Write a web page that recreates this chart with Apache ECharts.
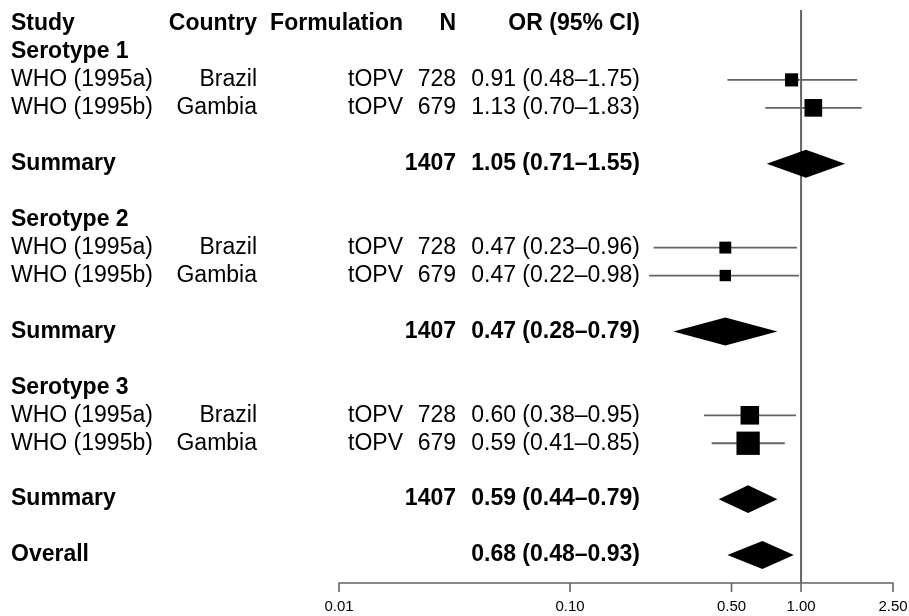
<!DOCTYPE html>
<html><head><meta charset="utf-8">
<script src="https://cdn.jsdelivr.net/npm/echarts@6/dist/echarts.min.js"></script>
<style>html,body{margin:0;padding:0;background:#fff}#c{width:909px;height:616px}</style>
</head><body><div id="c"></div>
<script>
// ---- data ----
const headerLabels = ['Study', 'Country', 'Formulation', 'N', 'OR (95% CI)'];
const groupLabels = ['Serotype 1', 'Serotype 2', 'Serotype 3'];
const studyNames = ['WHO (1995a)', 'WHO (1995b)'];
const countries = ['Brazil', 'Gambia'];
const formulations = ['tOPV', 'tOPV'];
const studyN = [728, 679];
const studyOR = [[0.91, 1.13], [0.47, 0.47], [0.60, 0.59]];
const studyLo = [[0.48, 0.70], [0.23, 0.22], [0.38, 0.41]];
const studyHi = [[1.75, 1.83], [0.96, 0.98], [0.95, 0.85]];
const summaryLabel = 'Summary';
const summaryN = [1407, 1407, 1407];
const summaryOR = [1.05, 0.47, 0.59];
const summaryLo = [0.71, 0.28, 0.44];
const summaryHi = [1.55, 0.79, 0.79];
const overallLabel = 'Overall';
const overallOR = [0.68];
const overallLo = [0.48];
const overallHi = [0.93];
const tickValues = [0.01, 0.10, 0.50, 1.00, 2.50];
const nullValue = [1.00];

// ---- layout / style ----
const FONT = '"Liberation Sans", Arial, Helvetica, sans-serif';
const colX = [11, 257, 403, 456, 640];
const colAlign = ['left', 'right', 'right', 'right', 'right'];
const GREY = '#636363';
const ROW_MIN = -0.5, ROW_MAX = 20;

const fmt = v => v.toFixed(2);
const ciText = (o, l, h) => fmt(o) + ' (' + fmt(l) + '\u2013' + fmt(h) + ')';

const cells = [];
const studyMarks = [];
const diamonds = [];
headerLabels.forEach((t, c) => cells.push({ row: 0, col: c, text: t, bold: true }));
let row = 1;
groupLabels.forEach((g, gi) => {
  cells.push({ row, col: 0, text: g, bold: true });
  row++;
  studyNames.forEach((s, si) => {
    const vals = [s, countries[si], formulations[si], String(studyN[si]),
      ciText(studyOR[gi][si], studyLo[gi][si], studyHi[gi][si])];
    vals.forEach((t, c) => cells.push({ row, col: c, text: t, bold: false }));
    studyMarks.push([studyOR[gi][si], studyLo[gi][si], studyHi[gi][si], row]);
    row++;
  });
  row++;
  cells.push({ row, col: 0, text: summaryLabel, bold: true });
  cells.push({ row, col: 3, text: String(summaryN[gi]), bold: true });
  cells.push({ row, col: 4, text: ciText(summaryOR[gi], summaryLo[gi], summaryHi[gi]), bold: true });
  diamonds.push([summaryOR[gi], summaryLo[gi], summaryHi[gi], row]);
  row += 2;
});
cells.push({ row, col: 0, text: overallLabel, bold: true });
cells.push({ row, col: 4, text: ciText(overallOR[0], overallLo[0], overallHi[0]), bold: true });
diamonds.push([overallOR[0], overallLo[0], overallHi[0], row]);

const chart = echarts.init(document.getElementById('c'), null, { renderer: 'canvas' });
chart.setOption({
  animation: false,
  backgroundColor: '#fff',
  grid: { left: 339, width: 554, top: 10, height: 573, containLabel: false },
  xAxis: {
    type: 'log', logBase: 10, min: 0.01, max: 2.5, position: 'bottom',
    axisLine: { show: true, onZero: false, lineStyle: { color: GREY, width: 1.6 } },
    axisTick: { show: false }, axisLabel: { show: false }, splitLine: { show: false }
  },
  yAxis: {
    type: 'value', inverse: true, min: ROW_MIN, max: ROW_MAX, show: false,
    splitLine: { show: false }
  },
  series: [
    {
      type: 'custom', name: 'null line', silent: true, z: 1,
      data: nullValue.map(v => [v, 0]), encode: { x: 0, y: 1 },
      renderItem(params, api) {
        const v = api.value(0);
        const a = api.coord([v, ROW_MIN]), b = api.coord([v, ROW_MAX]);
        return { type: 'line', shape: { x1: a[0], y1: a[1], x2: b[0], y2: b[1] },
          style: { stroke: GREY, lineWidth: 2 } };
      }
    },
    {
      type: 'custom', name: 'axis ticks', silent: true, z: 1,
      data: tickValues.map(v => [v, ROW_MAX]), encode: { x: 0, y: 1 },
      renderItem(params, api) {
        const v = api.value(0);
        const p = api.coord([v, ROW_MAX]);
        return { type: 'group', children: [
          { type: 'line', shape: { x1: p[0], y1: p[1], x2: p[0], y2: p[1] + 9 },
            style: { stroke: GREY, lineWidth: 1.6 } },
          { type: 'text', x: p[0], y: p[1] + 24,
            style: { text: fmt(v), fill: '#000', fontSize: 15, fontFamily: FONT,
              align: 'center', verticalAlign: 'middle' } }
        ] };
      }
    },
    {
      type: 'custom', name: 'studies', silent: true, z: 3,
      data: studyMarks, encode: { x: [0, 1, 2], y: 3 },
      renderItem(params, api) {
        const o = api.value(0), l = api.value(1), h = api.value(2), r = api.value(3);
        const pc = api.coord([o, r]), pl = api.coord([l, r]), ph = api.coord([h, r]);
        const s = 17 / Math.log(h / l);
        return { type: 'group', children: [
          { type: 'line', shape: { x1: pl[0], y1: pl[1], x2: ph[0], y2: ph[1] },
            style: { stroke: GREY, lineWidth: 1.8 } },
          { type: 'rect', shape: { x: pc[0] - s / 2, y: pc[1] - s / 2, width: s, height: s },
            style: { fill: '#000' } }
        ] };
      }
    },
    {
      type: 'custom', name: 'summaries', silent: true, z: 3,
      data: diamonds, encode: { x: [0, 1, 2], y: 3 },
      renderItem(params, api) {
        const o = api.value(0), l = api.value(1), h = api.value(2), r = api.value(3);
        const top = api.coord([o, r - 0.5]), bot = api.coord([o, r + 0.5]);
        const pl = api.coord([l, r]), ph = api.coord([h, r]);
        return { type: 'polygon',
          shape: { points: [pl, top, ph, bot] },
          style: { fill: '#000' } };
      }
    },
    {
      type: 'custom', name: 'table', silent: true, z: 4,
      data: cells.map(c => [1, c.row]), encode: { x: 0, y: 1 },
      renderItem(params, api) {
        const cell = cells[params.dataIndex];
        const y = api.coord([1, api.value(1)])[1];
        return { type: 'text', x: colX[cell.col], y: y,
          style: { text: cell.text, fill: '#000', fontSize: 23,
            fontWeight: cell.bold ? 'bold' : 'normal', fontFamily: FONT,
            align: colAlign[cell.col], verticalAlign: 'middle' } };
      }
    }
  ]
});
</script>
</body></html>
